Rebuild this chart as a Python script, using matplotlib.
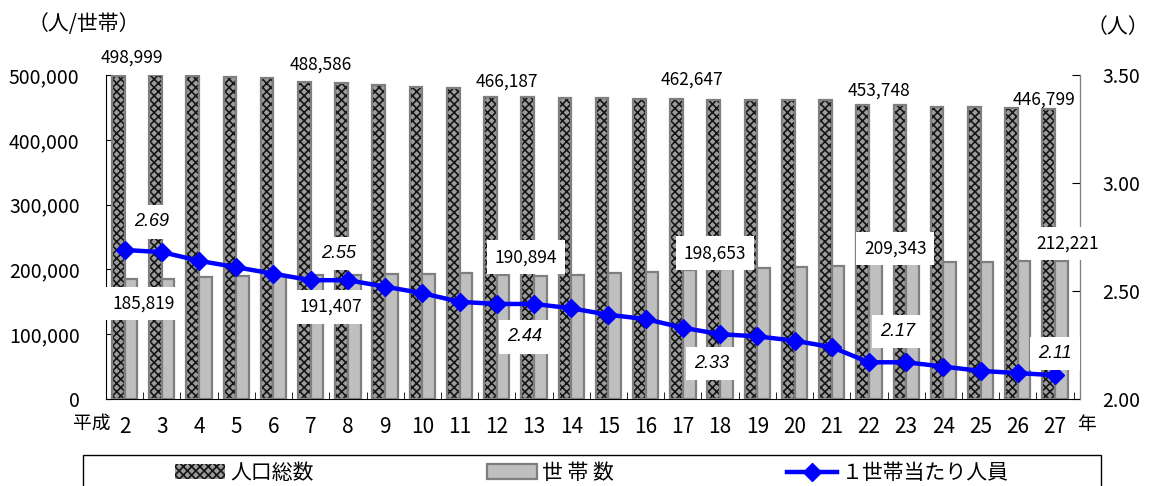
import matplotlib
matplotlib.use("Agg")
import matplotlib.pyplot as plt
import numpy as np
from matplotlib.patches import Rectangle, Patch
from matplotlib.lines import Line2D

plt.rcParams['font.family'] = ['Noto Sans CJK JP', 'DejaVu Sans']
plt.rcParams['hatch.linewidth'] = 1.2

#===Data===#
YEARS = ['2', '3', '4', '5', '6', '7', '8', '9', '10', '11', '12', '13', '14',
         '15', '16', '17', '18', '19', '20', '21', '22', '23', '24', '25', '26', '27']
POPULATION = [498999, 499300, 498000, 497000, 496000, 488586, 487000, 484000, 481800,
              479500, 466187, 465500, 464500, 464000, 463000, 462647, 461500, 461500,
              461000, 461000, 453748, 453500, 451000, 450000, 449000, 446799]
HOUSEHOLDS = [185819, 185900, 189000, 190500, 191000, 191407, 191500, 192500, 193500,
              194000, 190894, 190000, 192000, 194000, 196000, 198653, 200500, 201500,
              204000, 206000, 209343, 209500, 211000, 212000, 212500, 212221]
PER_HOUSEHOLD = [2.69, 2.68, 2.64, 2.61, 2.58, 2.55, 2.55, 2.52, 2.49, 2.45, 2.44, 2.44, 2.42,
                 2.39, 2.37, 2.33, 2.30, 2.29, 2.27, 2.24, 2.17, 2.17, 2.15, 2.13, 2.12, 2.11]
LABELLED = [0, 5, 10, 15, 20, 25]  # categories that carry data labels

# label offsets in pixels (dx, dy) from the data point
POP_OFFSETS = [(14, 18), (16, 18), (16, 15), (15, 20), (16, 14), (-5, 10)]
HH_OFFSETS = [(13, -25), (14, -32), (23, 18), (26, 17), (20, 15), (6, 18)]
RATIO_OFFSETS = [(27, 28), (28, 27), (28, -33), (29, -36), (29, 31), (0, 22)]

BAR_W = 0.34
POP_FACE = '#9c9c9c'
HATCH_DARK = '#151515'
EDGE_GREY = '#7f7f7f'
HH_FACE = '#bfbfbf'
LINE_BLUE = '#0000ff'


fig = plt.figure(figsize=(11.49, 4.86), dpi=100)
ax = fig.add_axes([106/1149, 1-399/486, 974/1149, 324/486])
ax2 = ax.twinx()

x = np.arange(len(YEARS))

# population bars (hatched), drawn twice: pattern then outline
ax.bar(x - BAR_W/2, POPULATION, BAR_W, color=POP_FACE, hatch='xxxx',
       edgecolor=HATCH_DARK, linewidth=0, zorder=2)
ax.bar(x - BAR_W/2, POPULATION, BAR_W, fill=False, edgecolor=EDGE_GREY,
       linewidth=1.6, zorder=3)
ax.bar(x + BAR_W/2, HOUSEHOLDS, BAR_W, color=HH_FACE, edgecolor=EDGE_GREY,
       linewidth=1.6, zorder=3)

ax2.plot(x, PER_HOUSEHOLD, color=LINE_BLUE, linewidth=3.2, marker='D',
         markersize=9, zorder=5)

ax.set_xlim(-0.46, 25.67)
ax.set_ylim(0, 500000)
ax2.set_ylim(2.0, 3.5)

ax.set_yticks(np.arange(0, 500001, 100000))
ax.set_yticklabels([f'{v:,}' for v in range(0, 500001, 100000)], fontsize=14)
ax2.set_yticks([2.0, 2.5, 3.0, 3.5])
ax2.set_yticklabels(['2.00', '2.50', '3.00', '3.50'], fontsize=14)

ax.set_xticks(x)
ax.set_xticklabels(YEARS, fontsize=15)
ax.set_xticks(np.arange(-0.5, len(YEARS), 1), minor=True)
ax.tick_params(axis='x', which='major', length=0, pad=12)
ax.tick_params(axis='x', which='minor', direction='in', length=5, color='black')
ax.tick_params(axis='y', direction='in', length=5, pad=19, color='black')
ax2.tick_params(axis='y', direction='in', length=6, pad=16, color='black')

for a in (ax, ax2):
    a.spines['top'].set_visible(False)
ax.spines['left'].set_color('black')
ax.spines['bottom'].set_color('black')
ax2.spines['right'].set_color(EDGE_GREY)
ax2.spines['left'].set_visible(False)
ax2.spines['bottom'].set_visible(False)

# data labels
for k, i in enumerate(LABELLED):
    ax2.annotate(f'{POPULATION[i]:,}', xy=(x[i] - BAR_W/2, POPULATION[i]),
                 xycoords=ax.transData, xytext=POP_OFFSETS[k], textcoords='offset pixels',
                 ha='center', va='center', fontsize=12.5, zorder=6)
    ax2.annotate(f'{HOUSEHOLDS[i]:,}', xy=(x[i] + BAR_W/2, HOUSEHOLDS[i]),
                 xycoords=ax.transData, xytext=HH_OFFSETS[k], textcoords='offset pixels',
                 ha='center', va='center', fontsize=12.5, zorder=6,
                 bbox=dict(boxstyle='square,pad=0.45', facecolor='white', edgecolor='none'))
    ax2.annotate(f'{PER_HOUSEHOLD[i]:.2f}', xy=(x[i], PER_HOUSEHOLD[i]),
                 xytext=RATIO_OFFSETS[k], textcoords='offset pixels',
                 ha='center', va='center', fontsize=13, style='italic',
                 family=['Liberation Sans', 'DejaVu Sans'], zorder=6,
                 bbox=dict(boxstyle='square,pad=0.45', facecolor='white', edgecolor='none'))

# axis unit captions
fig.text(28/1149, 1-24/486, '（人/世帯）', fontsize=15, ha='left', va='center')
fig.text(1149/1149, 1-27/486, '（人）', fontsize=15, ha='right', va='center')
fig.text(111/1149, 1-423/486, '平成', fontsize=13.5, ha='right', va='center')
fig.text(1077/1149, 1-424/486, '年', fontsize=13.5, ha='left', va='center')

# legend with frame running off the bottom edge
fig.add_artist(Rectangle((83/1149, -0.1), 1018/1149, (486-455)/486 + 0.1,
                         transform=fig.transFigure, fill=False, edgecolor='black',
                         linewidth=1.0))
handles = [
    Patch(facecolor=POP_FACE, hatch='xxxx', edgecolor=HATCH_DARK, linewidth=0),
    Patch(facecolor=HH_FACE, edgecolor=EDGE_GREY, linewidth=1.6),
    Line2D([], [], color=LINE_BLUE, linewidth=3.2, marker='D', markersize=9),
]
fig.legend(handles, ['人口総数', '世 帯 数', '１世帯当たり人員'], loc='center',
           bbox_to_anchor=(592/1149, 1-473/486), ncol=3, frameon=False,
           fontsize=15, handlelength=2.4, handleheight=0.72, handletextpad=0.25,
           columnspacing=8.3, borderpad=0)

fig.savefig('out.png', dpi=100)
